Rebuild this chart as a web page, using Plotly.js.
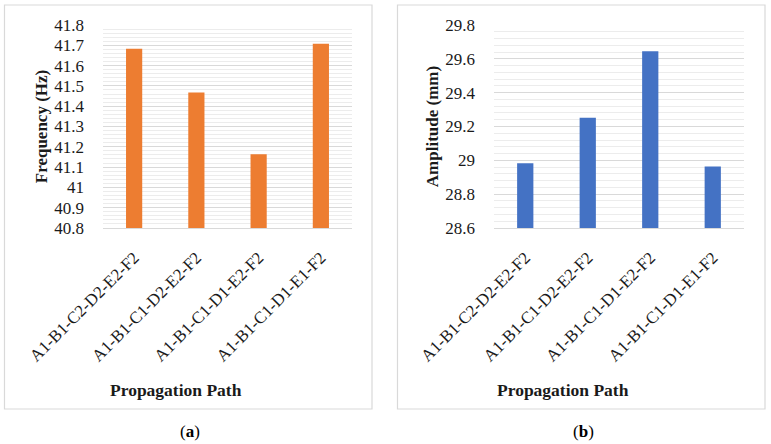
<!DOCTYPE html>
<html>
<head>
<meta charset="utf-8">
<script src="https://cdn.plot.ly/plotly-3.0.1.min.js"></script>
<style>html,body{margin:0;padding:0;background:#fff;}#chart{width:771px;height:444px;}</style>
</head>
<body>
<div id="chart"></div>
<script>
const paths = ["A1-B1-C2-D2-E2-F2", "A1-B1-C1-D2-E2-F2", "A1-B1-C1-D1-E2-F2", "A1-B1-C1-D1-E1-F2"];
const frequency = [41.683, 41.468, 41.163, 41.708];
const amplitude = [28.983, 29.252, 29.645, 28.963];
const freqTitle = "Frequency (Hz)";
const ampTitle = "Amplitude (mm)";
const xTitle = "Propagation Path";
const panelLabels = ["(<b>a</b>)", "(<b>b</b>)"];

const W = 771, H = 444;
const px = v => v / W;
const py = v => 1 - v / H;
const serif = "Liberation Serif";

const traces = [
  {type: "bar", x: paths, y: frequency, xaxis: "x", yaxis: "y",
   marker: {color: "#ED7D31"}, hoverinfo: "x+y"},
  {type: "bar", x: paths, y: amplitude, xaxis: "x2", yaxis: "y2",
   marker: {color: "#4472C4"}, hoverinfo: "x+y"}
];

function xax(domain, anchor) {
  return {
    domain: domain, anchor: anchor, type: "category",
    tickangle: -45, tickfont: {family: serif, size: 17, color: "#1a1a1a"},
    showgrid: false, zeroline: false, showline: true, linecolor: "#d9d9d9", linewidth: 1,
    ticks: "", ticklabelstandoff: 12, fixedrange: true
  };
}
function yax(domain, anchor, range, dtick, minor, title) {
  return {
    domain: domain, anchor: anchor, range: range, dtick: dtick, tick0: range[0],
    tickfont: {family: serif, size: 17, color: "#1a1a1a"},
    showgrid: true, gridcolor: "#d9d9d9", gridwidth: 1,
    minor: {dtick: minor, showgrid: true, gridcolor: "#ececec", gridwidth: 1, ticks: ""},
    zeroline: false, showline: false, ticks: "", ticklabelstandoff: 18,
    title: {text: "<b>" + title + "</b>", font: {family: serif, size: 17, color: "#1a1a1a"}, standoff: 2},
    fixedrange: true
  };
}

const yDom = [py(228), py(25)];
const layout = {
  width: W, height: H,
  margin: {l: 0, r: 0, t: 0, b: 0},
  font: {family: serif},
  paper_bgcolor: "#fff", plot_bgcolor: "rgba(0,0,0,0)",
  showlegend: false, bargap: 0.74,
  xaxis: xax([px(103), px(352)], "y"),
  yaxis: yax(yDom, "x", [40.8, 41.8001], 0.1, 0.02, freqTitle),
  xaxis2: xax([px(494), px(744)], "y2"),
  yaxis2: yax(yDom, "x2", [28.6, 29.8001], 0.2, 0.04, ampTitle),
  shapes: [
    {type: "rect", xref: "paper", yref: "paper", x0: px(4.5), x1: px(372), y0: py(409), y1: py(5),
     line: {color: "#d9d9d9", width: 1.2}, fillcolor: "rgba(0,0,0,0)", layer: "below"},
    {type: "rect", xref: "paper", yref: "paper", x0: px(397.5), x1: px(765), y0: py(409), y1: py(5),
     line: {color: "#d9d9d9", width: 1.2}, fillcolor: "rgba(0,0,0,0)", layer: "below"}
  ],
  annotations: [
    {xref: "paper", yref: "paper", x: px(176), y: py(390), text: "<b>" + xTitle + "</b>", showarrow: false,
     font: {family: serif, size: 17.5, color: "#1a1a1a"}, xanchor: "center", yanchor: "middle"},
    {xref: "paper", yref: "paper", x: px(563), y: py(390), text: "<b>" + xTitle + "</b>", showarrow: false,
     font: {family: serif, size: 17.5, color: "#1a1a1a"}, xanchor: "center", yanchor: "middle"},
    {xref: "paper", yref: "paper", x: px(190), y: py(431), text: panelLabels[0], showarrow: false,
     font: {family: serif, size: 17, color: "#000"}, xanchor: "center", yanchor: "middle"},
    {xref: "paper", yref: "paper", x: px(583), y: py(431), text: panelLabels[1], showarrow: false,
     font: {family: serif, size: 17, color: "#000"}, xanchor: "center", yanchor: "middle"}
  ]
};

Plotly.newPlot("chart", traces, layout, {displayModeBar: false, staticPlot: true});
</script>
</body>
</html>
